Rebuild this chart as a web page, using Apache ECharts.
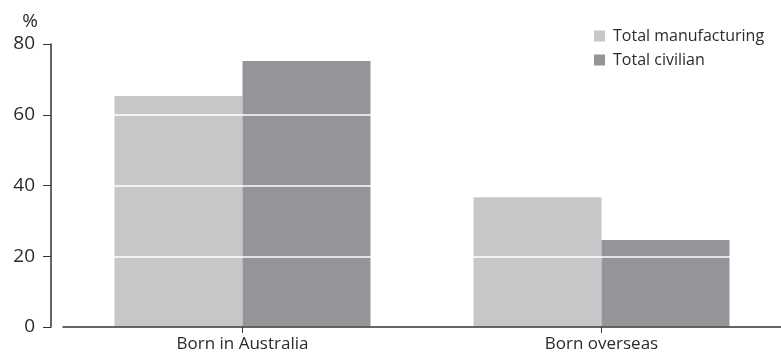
<!DOCTYPE html>
<html>
<head>
<meta charset="utf-8">
<script src="https://cdn.jsdelivr.net/npm/echarts@6/dist/echarts.min.js"></script>
<style>
  html, body { margin: 0; padding: 0; background: #fff; }
  #chart { width: 781px; height: 356px; }
</style>
</head>
<body>
<div id="chart"></div>
<script>
// Share of employed persons by birthplace (%)
const categories = ['Born in Australia', 'Born overseas'];
const seriesNames = ['Total manufacturing', 'Total civilian'];
const manufacturing = [65.3, 36.7];
const civilian = [75.2, 24.6];
const yTicks = [0, 20, 40, 60, 80];

const FONT = '"Open Sans", "Noto Sans", sans-serif';
const TEXT = '#2b2b2b';

const chart = echarts.init(document.getElementById('chart'), null, { renderer: 'canvas' });

chart.setOption({
  animation: false,
  backgroundColor: '#ffffff',
  textStyle: { fontFamily: FONT },
  grid: { left: 63, top: 44, bottom: 29, width: 730, containLabel: false },
  legend: {
    orient: 'vertical',
    left: 589,
    top: 23,
    icon: 'rect',
    itemWidth: 11,
    itemHeight: 11,
    itemGap: 8,
    textStyle: { fontFamily: FONT, fontSize: 16, color: TEXT, lineHeight: 16, padding: [0, 0, 0, 3] },
    data: seriesNames
  },
  xAxis: {
    type: 'category',
    data: categories,
    z: 4,
    axisLine: { show: true, lineStyle: { color: '#333', width: 1.5 } },
    axisTick: { show: true, alignWithLabel: true, length: 6, lineStyle: { color: '#333', width: 1 } },
    axisLabel: { fontFamily: FONT, fontSize: 17, color: TEXT, margin: 9 }
  },
  yAxis: {
    type: 'value',
    min: yTicks[0],
    max: yTicks[yTicks.length - 1],
    interval: yTicks[1] - yTicks[0],
    offset: 12,
    z: 3,
    name: '%',
    nameLocation: 'end',
    nameGap: 22,
    nameMoveOverlap: false,
    nameTextStyle: {
      fontFamily: FONT, fontSize: 19, color: TEXT,
      align: 'right', verticalAlign: 'middle', padding: [0, 13, 0, 0]
    },
    axisLine: { show: true, lineStyle: { color: '#333', width: 1.5 } },
    axisTick: { show: true, length: 8, lineStyle: { color: '#333', width: 1 } },
    axisLabel: { fontFamily: FONT, fontSize: 19, color: TEXT, margin: 16 },
    splitLine: { show: true, lineStyle: { color: '#ffffff', width: 1.5 } }
  },
  series: [
    {
      name: seriesNames[0],
      type: 'bar',
      data: manufacturing,
      barWidth: 128,
      barGap: '0%',
      itemStyle: { color: '#c6c7c9' }
    },
    {
      name: seriesNames[1],
      type: 'bar',
      data: civilian,
      barWidth: 128,
      barGap: '0%',
      itemStyle: { color: '#949599' }
    }
  ]
});
</script>
</body>
</html>
